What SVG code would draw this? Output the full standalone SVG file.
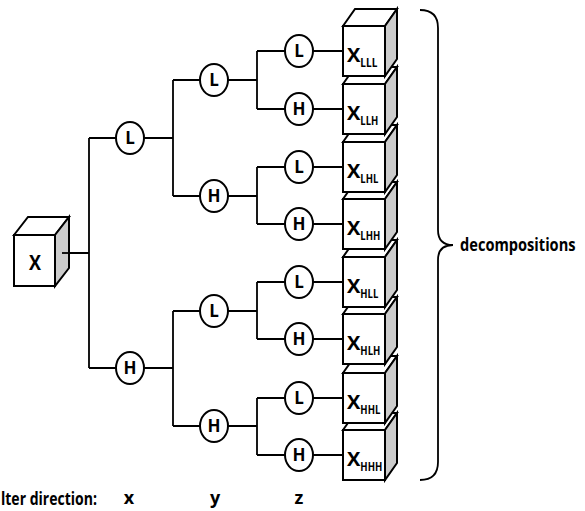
<svg xmlns="http://www.w3.org/2000/svg" width="585" height="511" viewBox="0 0 585 511">
<defs>
<style>
.w{fill:#fff;stroke:#000;stroke-width:2;stroke-linejoin:miter}
.s{fill:#ccc;stroke:#000;stroke-width:2}
.c{fill:#fff;stroke:#000;stroke-width:2}
.ln{fill:none;stroke:#000;stroke-width:1.8}
.t{font-family:"Open Sans","Liberation Sans",sans-serif;font-weight:bold;fill:#000}
.m{text-anchor:middle}
.n{font-size:17px;text-anchor:middle}
.cx{font-size:20px}
.sub{font-size:12px}
</style>
<g id="cube">
<polygon class="w" points="0,-25 12,-42 54,-42 42,-25"/>
<polygon class="s" points="42,-25 54,-42 54,8 42,25"/>
<rect class="w" x="0" y="-25" width="42" height="50"/>
</g>
</defs>
<rect width="585" height="511" fill="#fff"/>
<g id="connectors" class="ln">
<path d="M62,253H89M89,138V368M89,138H116M89,368H116"/>
<path d="M144,138H173M173,80V196M173,80H200M173,196H200"/>
<path d="M144,368H173M173,311V426M173,311H200M173,426H200"/>
<path d="M228,80H257M257,51V109M257,51H285M257,109H285"/>
<path d="M228,196H257M257,167V224M257,167H285M257,224H285"/>
<path d="M228,311H257M257,282V339M257,282H285M257,339H285"/>
<path d="M228,426H257M257,398V455M257,398H285M257,455H285"/>
<path d="M313,51H343M313,109H343M313,167H343M313,224H343M313,282H343M313,339H343M313,398H343M313,455H343"/>
</g>
<g id="root">
<polygon class="w" points="14,235 28,217 69,217 55,235"/>
<polygon class="s" points="55,235 69,217 69,268 55,286"/>
<rect class="w" x="14" y="235" width="41" height="51"/>
<line class="ln" x1="62" y1="253" x2="69" y2="253"/>
<text class="t m" x="35" y="270" font-size="22" textLength="12" lengthAdjust="spacingAndGlyphs">X</text>
</g>
<g id="n-L"><ellipse class="c" cx="130" cy="138" rx="14" ry="16"/><text class="t n" x="130" y="144">L</text></g>
<g id="n-H"><ellipse class="c" cx="130" cy="368" rx="14" ry="16"/><text class="t n" x="130" y="374">H</text></g>
<g id="n-LL"><ellipse class="c" cx="214" cy="80" rx="14" ry="16"/><text class="t n" x="214" y="86">L</text></g>
<g id="n-LH"><ellipse class="c" cx="214" cy="196" rx="14" ry="16"/><text class="t n" x="214" y="202">H</text></g>
<g id="n-HL"><ellipse class="c" cx="214" cy="311" rx="14" ry="16"/><text class="t n" x="214" y="317">L</text></g>
<g id="n-HH"><ellipse class="c" cx="214" cy="426" rx="14" ry="16"/><text class="t n" x="214" y="432">H</text></g>
<g id="n-LLL"><ellipse class="c" cx="299" cy="51" rx="14" ry="16"/><text class="t n" x="299" y="57">L</text></g>
<g id="n-LLH"><ellipse class="c" cx="299" cy="109" rx="14" ry="16"/><text class="t n" x="299" y="115">H</text></g>
<g id="n-LHL"><ellipse class="c" cx="299" cy="167" rx="14" ry="16"/><text class="t n" x="299" y="173">L</text></g>
<g id="n-LHH"><ellipse class="c" cx="299" cy="224" rx="14" ry="16"/><text class="t n" x="299" y="230">H</text></g>
<g id="n-HLL"><ellipse class="c" cx="299" cy="282" rx="14" ry="16"/><text class="t n" x="299" y="288">L</text></g>
<g id="n-HLH"><ellipse class="c" cx="299" cy="339" rx="14" ry="16"/><text class="t n" x="299" y="345">H</text></g>
<g id="n-HHL"><ellipse class="c" cx="299" cy="398" rx="14" ry="16"/><text class="t n" x="299" y="404">L</text></g>
<g id="n-HHH"><ellipse class="c" cx="299" cy="455" rx="14" ry="16"/><text class="t n" x="299" y="461">H</text></g>
<g id="cube-HHH"><use href="#cube" x="343" y="455"/><text class="t cx" x="347" y="466">X<tspan class="sub" dy="5" textLength="22" lengthAdjust="spacingAndGlyphs">HHH</tspan></text></g>
<g id="cube-HHL"><use href="#cube" x="343" y="398"/><text class="t cx" x="347" y="409">X<tspan class="sub" dy="5" textLength="20" lengthAdjust="spacingAndGlyphs">HHL</tspan></text></g>
<g id="cube-HLH"><use href="#cube" x="343" y="339"/><text class="t cx" x="347" y="350">X<tspan class="sub" dy="5" textLength="20" lengthAdjust="spacingAndGlyphs">HLH</tspan></text></g>
<g id="cube-HLL"><use href="#cube" x="343" y="282"/><text class="t cx" x="347" y="293">X<tspan class="sub" dy="5" textLength="18" lengthAdjust="spacingAndGlyphs">HLL</tspan></text></g>
<g id="cube-LHH"><use href="#cube" x="343" y="224"/><text class="t cx" x="347" y="235">X<tspan class="sub" dy="5" textLength="20" lengthAdjust="spacingAndGlyphs">LHH</tspan></text></g>
<g id="cube-LHL"><use href="#cube" x="343" y="167"/><text class="t cx" x="347" y="178">X<tspan class="sub" dy="5" textLength="18" lengthAdjust="spacingAndGlyphs">LHL</tspan></text></g>
<g id="cube-LLH"><use href="#cube" x="343" y="109"/><text class="t cx" x="347" y="120">X<tspan class="sub" dy="5" textLength="18" lengthAdjust="spacingAndGlyphs">LLH</tspan></text></g>
<g id="cube-LLL"><use href="#cube" x="343" y="51"/><text class="t cx" x="347" y="62">X<tspan class="sub" dy="5" textLength="17" lengthAdjust="spacingAndGlyphs">LLL</tspan></text></g>
<g id="brace">
<path class="ln" d="M420,10 Q438,10 438,28 V230 Q438,245 453,245 Q438,245 438,260 V462 Q438,480 420,480"/>
<text class="t" transform="translate(460,251) scale(0.86,1)" x="0" y="0" font-size="17">decompositions</text>
</g>
<g id="legend">
<text class="t" x="1" y="505" font-size="18" textLength="96" lengthAdjust="spacingAndGlyphs">lter direction:</text>
<text class="t m" x="129" y="504" font-size="18">x</text>
<text class="t m" x="215" y="504" font-size="18">y</text>
<text class="t m" x="299" y="504" font-size="18">z</text>
</g>
</svg>
